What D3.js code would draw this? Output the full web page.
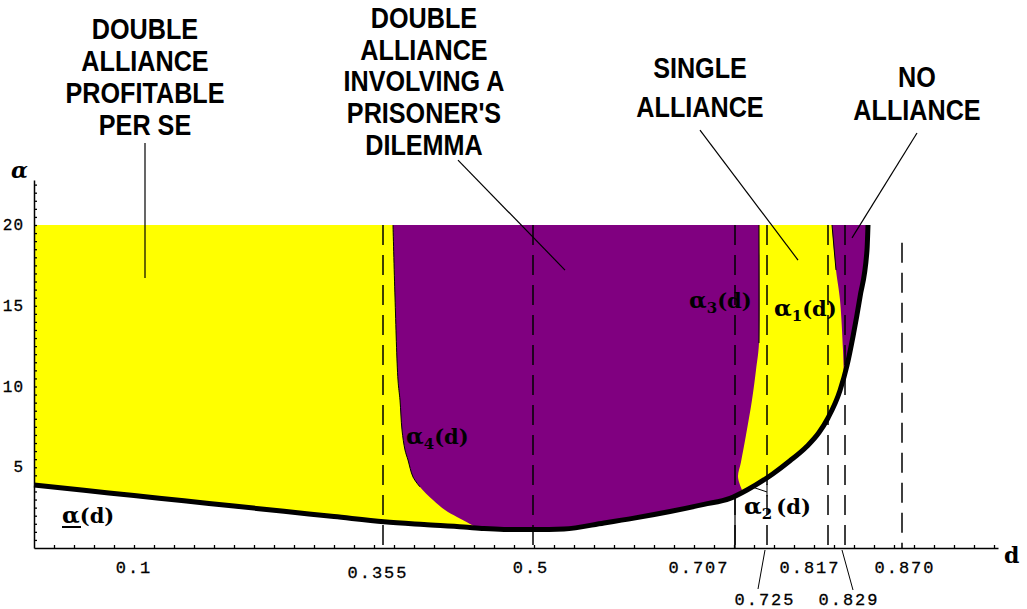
<!DOCTYPE html>
<html><head><meta charset="utf-8">
<script src="https://cdn.jsdelivr.net/npm/d3@7"></script>
<style>body{margin:0;background:#fff}svg{display:block}</style>
</head><body>
<svg id="c" width="1027" height="609"></svg>
<script>
// ---- data (d, alpha) ----
const lowerD = [0, 0.05, 0.1, 0.15, 0.2, 0.25, 0.3, 0.35, 0.39, 0.43, 0.45, 0.47, 0.5, 0.53, 0.57, 0.6, 0.636, 0.67, 0.696, 0.713, 0.739, 0.756, 0.773, 0.785, 0.794, 0.806, 0.813, 0.819, 0.826, 0.833, 0.834];
const lowerA = [3.90, 3.57, 3.25, 2.92, 2.60, 2.27, 1.95, 1.62, 1.45, 1.30, 1.20, 1.15, 1.14, 1.18, 1.55, 1.85, 2.26, 2.70, 3.07, 3.59, 4.60, 5.40, 6.30, 7.15, 8.05, 9.75, 11.30, 13.10, 15.54, 18.45, 20];

const alpha4D = [0.359, 0.361, 0.364, 0.366, 0.368, 0.371, 0.374, 0.379, 0.386, 0.399, 0.411, 0.423, 0.436, 0.443];
const alpha4A = [20, 15.54, 10.40, 9.16, 7.31, 6.07, 5.45, 4.40, 3.78, 2.97, 2.35, 1.92, 1.49, 1.25];

const alpha3D = [0.725, 0.725, 0.722, 0.718, 0.712, 0.707, 0.704, 0.708];
const alpha3A = [20, 12.69, 11.02, 9.16, 7.0, 5.33, 4.40, 3.60];

const alpha1D = [0.798, 0.802, 0.806, 0.809, 0.810];
const alpha1A = [20, 17.21, 15.36, 12.26, 10.60];

const guideD   = [0.349, 0.499, 0.701, 0.733, 0.794, 0.811, 0.868];
const guideTop = [20, 20, 20, 20, 20, 20, 18.9];

const xTickText = ["0.1", "0.355", "0.5", "0.707", "0.725", "0.817", "0.829", "0.870"];
const xTickAt   = [0.099, 0.343, 0.496, 0.664, 0.730, 0.775, 0.814, 0.870];
const xTickRow  = [0, 1, 0, 0, 2, 0, 2, 0];

const yTickText = ["5", "10", "15", "20"];
const yTickAt   = [5, 10, 15, 20];

const regionLines = [
  ["DOUBLE", "ALLIANCE", "PROFITABLE", "PER SE"],
  ["DOUBLE", "ALLIANCE", "INVOLVING A", "PRISONER'S", "DILEMMA"],
  ["SINGLE", "ALLIANCE"],
  ["NO", "ALLIANCE"]
];
// leader lines: [d0, a0, d1, a1]
const leaders = [
  [0.111, 25.08, 0.111, 16.72],
  [0.424, 24.02, 0.531, 17.21],
  [0.666, 25.88, 0.764, 17.83],
  [0.883, 25.70, 0.818, 19.20]
];

// ---- scales ----
const x = d3.scaleLinear().domain([0, 0.964]).range([34, 998]);
const y = d3.scaleLinear().domain([0, 368 / 16.15]).range([548, 180]);

const svg = d3.select("#c");
const YEL = "#ffff00", PUR = "#800080";
const zip = (a, b) => a.map((v, i) => [v, b[i]]);

const lower = zip(lowerD, lowerA);
const a4 = zip(alpha4D, alpha4A);
const a3 = zip(alpha3D, alpha3A);
const a1 = zip(alpha1D, alpha1A);

const line = d3.line().x(p => x(p[0])).y(p => y(p[1]));
const lineMX = d3.line().x(p => x(p[0])).y(p => y(p[1])).curve(d3.curveMonotoneX);
const lineCR = d3.line().x(p => x(p[0])).y(p => y(p[1])).curve(d3.curveCatmullRom.alpha(0.5));
// join several path pieces into one outline
const join = parts => parts.map((s, i) => i === 0 ? s : s.replace(/^M/, "L")).join("") + "Z";

const lowerPath = lineMX(lower);

// yellow: everything above the lower bound up to alpha = 20
svg.append("path")
  .attr("d", join([lowerPath, line([[0.834, 20], [0, 20]])]))
  .attr("fill", YEL);

// purple region 1: between alpha4 and alpha3
const a4end = a4[a4.length - 1][0], a3end = a3[a3.length - 1][0];
const lowSeg1 = [a4[a4.length - 1]].concat(lower.filter(p => p[0] > a4end && p[0] < a3end), [a3[a3.length - 1]]);
svg.append("path").attr("d", join([
  lineCR(a4), lineMX(lowSeg1), lineCR(a3.slice().reverse())
])).attr("fill", PUR);

// purple region 2: between alpha1 and the lower bound
const lowSeg2 = [a1[a1.length - 1]].concat(lower.filter(p => p[0] > a1[a1.length - 1][0]));
svg.append("path").attr("d", join([lineCR(a1), lineMX(lowSeg2)])).attr("fill", PUR);

// thin boundary edges
svg.append("path").attr("d", lineCR(a4.slice(0, 9))).attr("fill", "none").attr("stroke", "#000").attr("stroke-width", 1);
svg.append("path").attr("d", line(a3.slice(0, 2))).attr("fill", "none").attr("stroke", "#000").attr("stroke-width", 1);
svg.append("path").attr("d", line(a1.slice(0, 2))).attr("fill", "none").attr("stroke", "#000").attr("stroke-width", 1);

// dashed guide lines
guideD.forEach((g, i) => {
  svg.append("line")
    .attr("x1", x(g)).attr("x2", x(g))
    .attr("y1", y(guideTop[i])).attr("y2", y(0))
    .attr("stroke", "#000").attr("stroke-width", 1.5)
    .attr("stroke-dasharray", "20,10");
});
// solid part of the 0.707 guide below the curve
svg.append("line").attr("x1", x(guideD[2])).attr("x2", x(guideD[2]))
  .attr("y1", y(3.2)).attr("y2", y(0)).attr("stroke", "#000").attr("stroke-width", 1.2);

// lower bound (thick)
svg.append("path").attr("d", lowerPath).attr("fill", "none")
  .attr("stroke", "#000").attr("stroke-width", 5).attr("stroke-linejoin", "round");

// alpha2 pointer
svg.append("path").attr("d", line([[0.718, 3.78], [0.733, 3.47]]))
  .attr("fill", "none").attr("stroke", "#000").attr("stroke-width", 1);
svg.append("path").attr("d", line([[0.733, 3.95], [0.733, 3.20]]))
  .attr("fill", "none").attr("stroke", "#000").attr("stroke-width", 1);

// ---- axes ----
const gx = svg.append("g").attr("transform", `translate(0,${y(0)})`)
  .call(d3.axisBottom(x).tickValues(d3.range(0.02, 0.961, 0.02)).tickSize(-3).tickSizeOuter(0).tickFormat(""));
const gy = svg.append("g").attr("transform", `translate(${x(0)},0)`)
  .call(d3.axisLeft(y).tickValues(d3.range(0.5, 22.6, 0.5)).tickSize(-3).tickSizeOuter(0).tickFormat(""));
[gx, gy].forEach(g => {
  g.select(".domain").attr("stroke", "#000").attr("stroke-width", 1.5);
  g.selectAll(".tick line").attr("stroke", "#000").attr("stroke-width", 1.3);
});

const mono = "'Liberation Mono', 'DejaVu Sans Mono', monospace";
const rowBase = [573, 578, 605];
xTickText.forEach((t, i) => {
  svg.append("text").attr("x", x(xTickAt[i]) + 1).attr("y", rowBase[xTickRow[i]])
    .attr("text-anchor", "middle").attr("font-family", mono).attr("font-size", 17)
    .attr("letter-spacing", 2).attr("stroke", "#000").attr("stroke-width", 0.3)
    .attr("fill", "#000").text(t);
});
// leader lines for the second-row labels
svg.append("path").attr("d", `M${x(0.724)},589 L${x(0.731)},550`).attr("stroke", "#000").attr("fill", "none");
svg.append("path").attr("d", `M${x(0.819)},590 L${x(0.808)},550`).attr("stroke", "#000").attr("fill", "none");

yTickText.forEach((t, i) => {
  svg.append("text").attr("x", 24).attr("y", y(yTickAt[i]) + 5)
    .attr("text-anchor", "end").attr("font-family", mono).attr("font-size", 16)
    .attr("letter-spacing", 1).attr("stroke", "#000").attr("stroke-width", 0.3)
    .attr("fill", "#000").text(t);
});

const serif = "'DejaVu Serif', 'Liberation Serif', serif";
svg.append("text").attr("x", 11).attr("y", 178).attr("font-family", serif)
  .attr("font-weight", "bold").attr("font-style", "italic").attr("font-size", 22).text("α");
svg.append("text").attr("x", 1004).attr("y", 563).attr("font-family", serif)
  .attr("font-weight", "bold").attr("font-size", 22).text("d");

// ---- region captions ----
const sans = "'Liberation Sans', Arial, sans-serif";
const captionPos = [
  {cx: 145, base: 39, step: 32},
  {cx: 424, base: 28, step: 31.7},
  {cx: 700, base: 78, step: 39},
  {cx: 917, base: 87, step: 33}
];
regionLines.forEach((lines, k) => {
  lines.forEach((t, j) => {
    svg.append("g")
      .attr("transform", `translate(${captionPos[k].cx},${captionPos[k].base + j * captionPos[k].step}) scale(0.84,1)`)
      .append("text").attr("text-anchor", "middle").attr("font-family", sans)
      .attr("font-weight", "bold").attr("font-size", 30).attr("fill", "#000").text(t);
  });
});
leaders.forEach(l => {
  svg.append("path").attr("d", line([[l[0], l[1]], [l[2], l[3]]]))
    .attr("fill", "none").attr("stroke", "#000").attr("stroke-width", 1.2);
});

// ---- curve labels ----
function curveLabel(px, base, sub, gap) {
  const t = svg.append("text").attr("x", px).attr("y", base).attr("font-family", serif)
    .attr("font-weight", "bold").attr("font-size", 21).attr("fill", "#000");
  t.append("tspan").attr("font-size", 23).text("α");
  if (sub) {
    t.append("tspan").attr("font-size", 15).attr("dy", 5).text(sub);
    t.append("tspan").attr("dy", -5).text((gap ? "\u2009" : "") + "(d)");
  } else {
    t.append("tspan").text("(d)");
  }
  return t;
}
curveLabel(406, 444, "4");
curveLabel(689, 308, "3");
curveLabel(774, 316, "1");
curveLabel(744, 514, "2", true);
curveLabel(62, 523, null);
svg.append("line").attr("x1", 62).attr("x2", 81).attr("y1", 527).attr("y2", 527)
  .attr("stroke", "#000").attr("stroke-width", 2);
</script>
</body></html>
